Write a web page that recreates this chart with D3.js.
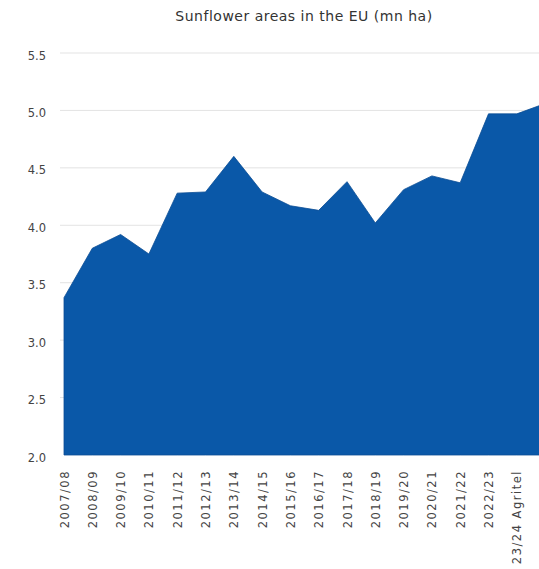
<!DOCTYPE html>
<html><head><meta charset="utf-8">
<script src="https://cdn.jsdelivr.net/npm/d3@7"></script>
<style>body{margin:0;background:#fff}svg{display:block}</style>
</head><body>
<svg id="c" width="539" height="569"></svg>
<script>
const categories = ["2007/08","2008/09","2009/10","2010/11","2011/12","2012/13","2013/14","2014/15","2015/16","2016/17","2017/18","2018/19","2019/20","2020/21","2021/22","2022/23","23/24 Agritel","24/25 Agritel"];
const areaValues = [3.37,3.80,3.92,3.75,4.28,4.29,4.60,4.29,4.17,4.13,4.38,4.02,4.31,4.43,4.37,4.97,4.97,5.06];
const yTicks = [2.0,2.5,3.0,3.5,4.0,4.5,5.0,5.5];
const title = "Sunflower areas in the EU (mn ha)";

const svg = d3.select("#c");
const font = "'DejaVu Sans', sans-serif";
const x = d3.scalePoint().domain(categories).range([64, 64 + 28.3*(categories.length-1)]);
const y = d3.scaleLinear().domain([2.0, 5.5]).range([455, 53]);

svg.append("text").attr("x", 304).attr("y", 21).attr("text-anchor","middle")
  .attr("font-family", font).attr("font-size", 14).attr("letter-spacing", 0.5)
  .attr("fill","#333").text(title);

const grid = svg.append("g");
grid.selectAll("line").data(yTicks.filter(d=>d>2)).join("line")
  .attr("x1", 60).attr("x2", 539).attr("y1", d=>y(d)).attr("y2", d=>y(d))
  .attr("stroke","#e3e3e3").attr("stroke-width",1);

const yAxis = d3.axisLeft(y).tickValues(yTicks).tickFormat(d3.format(".1f")).tickSize(0).tickPadding(0);
const ya = svg.append("g").attr("transform","translate(46,2)").call(yAxis);
ya.select(".domain").remove();
ya.selectAll("text").attr("font-family", font).attr("font-size", 11.5).attr("fill","#444").attr("dy","0.35em");

const area = d3.area().x((d,i)=>x(categories[i])).y0(y(2.0)).y1(d=>y(d));
svg.append("path").datum(areaValues).attr("d", area).attr("fill","#0a58a8")
  .attr("stroke","#0a4d94").attr("stroke-width",0.8);

const xAxis = d3.axisBottom(x).tickSize(0).tickPadding(0);
const xa = svg.append("g").attr("transform","translate(0,470)").call(xAxis);
xa.select(".domain").remove();
xa.selectAll("text").attr("font-family", font).attr("font-size", 11.5).attr("fill","#444")
  .attr("letter-spacing", 1.5)
  .attr("text-anchor","end").attr("transform","rotate(-90)").attr("x",0).attr("y",0).attr("dx",0).attr("dy","0.35em");
</script>
</body></html>
